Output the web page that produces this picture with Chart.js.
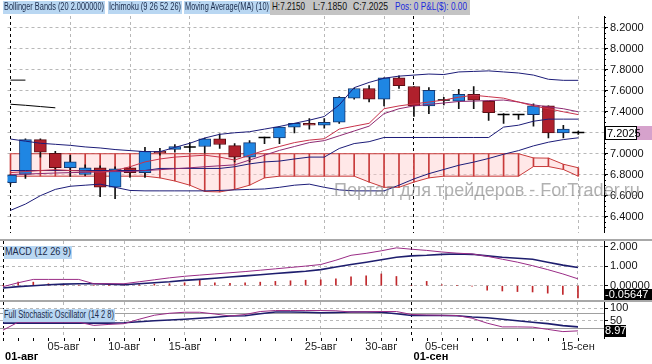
<!DOCTYPE html>
<html><head><meta charset="utf-8">
<script src="https://cdn.jsdelivr.net/npm/chart.js@4.4.1/dist/chart.umd.min.js"></script>
<style>
html,body{margin:0;padding:0;background:#fff}
#wrap{position:relative;width:652px;height:364px;overflow:hidden;background:#fff}
canvas{position:absolute;left:0}
.tag{position:absolute;height:13px;line-height:13px;font:10px "Liberation Sans",Arial,sans-serif;color:#1a2a4a;background:#b9d7f2;white-space:nowrap;overflow:hidden}
.fit{display:inline-block;transform-origin:0 50%;white-space:nowrap;position:absolute;top:0}
.sep{position:absolute;left:0;width:652px;height:2px;background:#a8a8a8}
#info{position:absolute;left:270px;top:0;width:200px;height:15px;line-height:15px;background:#c4c4c4;font:11px "Liberation Sans",Arial,sans-serif;color:#111;white-space:nowrap;overflow:hidden}
#info .pos{color:#1a2adc}
#wm{position:absolute;left:334px;top:180px;font:18px "Liberation Sans",Arial,sans-serif;color:rgba(135,135,135,0.65);white-space:nowrap}
</style></head><body><div id="wrap">
<canvas id="cMain" width="652" height="240" style="top:0"></canvas>
<canvas id="cMacd" width="652" height="59" style="top:241px"></canvas>
<canvas id="cSto" width="652" height="62" style="top:302px"></canvas>
<div class="sep" style="top:239px"></div>
<div class="sep" style="top:300px"></div>
<div id="info">
  <span class="fit" data-l="2" data-w="33">H:7.2150</span>
  <span class="fit" data-l="43" data-w="34">L:7.1850</span>
  <span class="fit" data-l="83" data-w="35">C:7.2025</span>
  <span class="fit pos" data-l="125" data-w="72">Pos: 0 P&amp;L($): 0.00</span>
</div>
<div class="tag" style="left:3px;top:1px;width:102px"><span class="fit" data-l="1" data-w="100">Bollinger Bands (20 2.000000)</span></div>
<div class="tag" style="left:108px;top:1px;width:74px"><span class="fit" data-l="1" data-w="72">Ichimoku (9 26 52 26)</span></div>
<div class="tag" style="left:184px;top:1px;width:86px"><span class="fit" data-l="1" data-w="84">Moving Average(MA) (10)</span></div>
<div class="tag" style="left:4px;top:246px;width:68px"><span class="fit" data-l="1" data-w="66">MACD (12 26 9)</span></div>
<div class="tag" style="left:3px;top:309px;width:112px"><span class="fit" data-l="1" data-w="110">Full Stochastic Oscillator (14 2 8)</span></div>
<div id="wm">Портал для трейдеров - ForTrader.ru</div>
</div>
<script>
// ---------- data ----------
const categories = ['01-авг','02-авг','03-авг','04-авг','05-авг','06-авг','07-авг','08-авг','10-авг','11-авг','12-авг','13-авг','15-авг','16-авг','17-авг','18-авг','19-авг','20-авг','22-авг','23-авг','24-авг','25-авг','26-авг','27-авг','29-авг','30-авг','31-авг','01-сен','02-сен','05-сен','06-сен','07-сен','08-сен','09-сен','10-сен','11-сен','12-сен','13-сен','15-сен'];
const dayTickIdx = [4, 8, 12, 21, 25, 29, 38];
const monthTickIdx = [0, 27];
const open  = [6.725,6.802,7.134,7.005,6.866,6.802,6.866,6.682,6.866,6.820,7.023,7.042,7.064,7.069,7.143,7.078,6.968,7.155,7.152,7.254,7.290,7.272,7.300,7.530,7.622,7.521,7.724,7.641,7.456,7.512,7.502,7.567,7.502,7.373,7.373,7.373,7.456,7.198,7.2025];
const high  = [6.802,7.143,7.143,7.023,6.986,6.894,6.885,6.876,6.876,7.060,7.051,7.088,7.106,7.150,7.189,7.097,7.125,7.160,7.260,7.290,7.336,7.336,7.545,7.625,7.650,7.724,7.742,7.641,7.631,7.539,7.613,7.641,7.502,7.383,7.375,7.475,7.456,7.272,7.2150];
const low   = [6.710,6.765,6.968,6.839,6.783,6.793,6.590,6.572,6.774,6.774,6.986,7.014,7.014,7.005,7.051,6.922,6.922,7.097,7.097,7.198,7.235,7.245,7.290,7.520,7.493,7.456,7.622,7.355,7.383,7.466,7.429,7.429,7.318,7.290,7.327,7.263,7.152,7.152,7.1850];
const close = [6.796,7.134,7.014,6.866,6.922,6.866,6.682,6.857,6.820,7.023,7.009,7.069,7.064,7.143,7.088,6.968,7.106,7.155,7.254,7.290,7.272,7.300,7.539,7.622,7.521,7.724,7.650,7.456,7.604,7.512,7.567,7.512,7.392,7.373,7.373,7.456,7.198,7.235,7.2025];
const bbUpper = [7.14,7.12,7.10,7.09,7.08,7.065,7.055,7.04,7.03,7.02,7.02,7.06,7.10,7.15,7.185,7.20,7.21,7.235,7.26,7.29,7.32,7.355,7.465,7.63,7.68,7.72,7.74,7.75,7.76,7.755,7.78,7.785,7.79,7.78,7.77,7.75,7.71,7.70,7.70];
const bbLower = [6.46,6.52,6.60,6.66,6.69,6.70,6.71,6.68,6.65,6.646,6.646,6.646,6.646,6.646,6.65,6.655,6.66,6.664,6.68,6.70,6.71,6.68,6.655,6.646,6.646,6.646,6.70,6.76,6.81,6.85,6.89,6.92,6.955,6.995,7.03,7.075,7.11,7.135,7.152];
const kijun = [6.84,6.84,6.84,6.84,6.84,6.84,6.84,6.84,6.84,6.84,6.86,6.86,6.86,6.86,6.86,6.876,6.903,6.922,6.93,6.95,6.968,6.968,7.05,7.097,7.115,7.155,7.155,7.155,7.155,7.155,7.155,7.155,7.155,7.254,7.272,7.31,7.33,7.33,7.33];
const tenkan = [6.820,6.83,6.84,6.848,6.84,6.834,6.825,6.84,6.876,6.922,6.95,6.968,6.977,6.986,6.968,6.94,6.986,7.032,7.069,7.106,7.13,7.143,7.235,7.263,7.29,7.429,7.456,7.475,7.493,7.512,7.539,7.558,7.544,7.53,7.493,7.456,7.429,7.40,7.373];
const ma10 = [6.802,6.806,6.811,6.816,6.82,6.823,6.827,6.83,6.83,6.84,6.848,6.857,6.866,6.876,6.885,6.894,6.94,6.986,7.032,7.069,7.106,7.125,7.171,7.217,7.263,7.3825,7.429,7.456,7.47,7.484,7.498,7.502,7.507,7.512,7.493,7.466,7.447,7.429,7.40];
const spanA = [6.786,6.786,6.786,6.786,6.786,6.786,6.786,6.786,6.786,6.786,6.77,6.74,6.70,6.64,6.636,6.66,6.70,6.77,6.786,6.786,6.786,6.786,6.786,6.786,6.73,6.68,6.68,6.73,6.77,6.786,6.786,6.786,6.786,6.786,6.786,6.878,6.878,6.85,6.786];
const spanB = [7.0,7.0,7.0,7.0,7.0,7.0,7.0,7.0,7.0,7.0,7.0,7.0,7.0,7.0,7.0,7.0,7.0,7.0,7.0,7.0,7.0,7.0,7.0,7.0,7.0,7.0,7.0,7.0,7.0,7.0,7.0,7.0,7.0,7.0,7.0,6.96,6.958,6.90,6.866];
const lagLine1 = [7.702, 7.702];
const lagLine2 = [7.472, 7.462, 7.450, 7.438];
const priceTicks = [6.4,6.6,6.8,7.0,7.2,7.4,7.6,7.8,8.0,8.2];
const macdLine = [-0.05,0.15,0.32,0.32,0.32,0.32,0.1,0.1,0.1,0.2,0.3,0.4,0.48,0.54,0.6,0.66,0.72,0.79,0.86,0.93,1.0,1.08,1.3,1.55,1.65,1.78,1.93,1.86,1.8,1.72,1.66,1.62,1.5,1.35,1.2,1.02,0.82,0.6,0.35];
const macdSignal = [-0.12,-0.05,0.0,0.05,0.08,0.1,0.1,0.08,0.05,0.1,0.15,0.2,0.27,0.32,0.38,0.44,0.5,0.56,0.62,0.68,0.74,0.82,0.95,1.08,1.2,1.32,1.45,1.52,1.55,1.6,1.62,1.6,1.52,1.45,1.4,1.35,1.2,1.05,0.93];
const macdHist = [0,0.18,0.18,0.1,0.05,0.03,0,0,0.03,0.05,0.08,0.1,0.15,0.27,0.15,0.12,0.15,0.18,0.22,0.25,0.28,0.3,0.35,0.45,0.5,0.6,0.47,0,0.22,0.05,0,-0.03,-0.23,-0.27,-0.3,-0.32,-0.38,-0.45,-0.62];
const macdTicks = [0, 1, 2];
const macdLast = -0.05647;
const stochK = [12,44,44,44,44,44,31,35,38,56,72,80,84,84,77,69,75,87,91,91,91,91,90,85,86,87,87,75,73,72,71,60,40,25,25,24,15,6,8.97];
const stochD = [40,40,40,40,40,40,40,40,42,46,50,53,56,60,64,69,70,78,85,85,84,82,83,85,85,84,78,71,71,71,70,65,62,56,50,44,38,30,25];
const stochTicks = [50, 100];
const stochLevels = [80, 20];

// ---------- text fitting ----------
document.querySelectorAll('.fit').forEach(el => {
  const w = el.getBoundingClientRect().width;
  el.style.left = el.dataset.l + 'px';
  el.style.transform = 'scaleX(' + (+el.dataset.w / w) + ')';
});

// ---------- helpers ----------
const idx = categories.map((_, i) => i);
const pts = arr => arr.map((v, i) => ({x: i, y: v}));
const FONT = 'Liberation Sans, Arial, sans-serif';
Chart.defaults.font.family = FONT;
const gridIdx = [...monthTickIdx, ...dayTickIdx].sort((a, b) => a - b);
function xAxis(h) {
  return {
    type: 'linear', min: -0.2, max: 39.72, offset: false,
    afterFit: s => { s.height = h; s.paddingLeft = 0; s.paddingRight = 0; },
    afterBuildTicks: s => { s.ticks = gridIdx.map(v => ({value: v})); },
    ticks: {display: false},
    grid: {offset: false, color: c => (c.tick && monthTickIdx.includes(c.tick.value)) ? '#000' : '#b8b8b8', lineWidth: 1, drawTicks: false},
    border: {display: false, dash: [3, 3]}
  };
}
function yAxis(min, max, ticks, fmt) {
  return {
    position: 'right', min, max,
    afterFit: s => { s.width = 48; s.paddingTop = 0; s.paddingBottom = 0; },
    afterBuildTicks: s => { s.ticks = ticks.map(v => ({value: v})); },
    ticks: {callback: fmt, color: '#111', font: {size: 11, family: FONT}, padding: 2},
    grid: {color: '#b8b8b8', tickColor: '#000', tickLength: 4, drawTicks: true},
    border: {display: true, color: '#000', width: 1, dash: [3, 3]}
  };
}
const baseOpts = {responsive: false, animation: false, events: [],
  plugins: {legend: {display: false}, tooltip: {enabled: false}}};

const isDoji = i => Math.abs(open[i] - close[i]) < 0.0005;
const up = i => close[i] > open[i];

// ---------- main chart ----------
const boxPlugin = {
  id: 'boxes',
  afterDraw(chart) {
    const ctx = chart.ctx, y = chart.scales.y, ca = chart.chartArea;
    const v = close[close.length - 1];
    const py = Math.round(y.getPixelForValue(v));
    ctx.save();
    ctx.fillStyle = '#fff'; ctx.fillRect(ca.right + 1, py - 7, 32, 14);
    ctx.strokeStyle = '#000'; ctx.lineWidth = 1; ctx.strokeRect(ca.right + 1.5, py - 6.5, 31, 13);
    ctx.fillStyle = '#d6a2cc'; ctx.fillRect(ca.right + 33, py - 7, 20, 14);
    ctx.fillStyle = '#000'; ctx.font = '11px ' + FONT; ctx.textBaseline = 'middle';
    ctx.fillText(v.toFixed(4), ca.right + 3, py + 0.5);
    ctx.beginPath();
    for (let t = 6.3; t <= 8.3; t += 0.05) {
      const p = Math.round(y.getPixelForValue(t)) + 0.5;
      if (p < ca.top || p > ca.bottom) continue;
      ctx.moveTo(ca.right, p); ctx.lineTo(ca.right + 2, p);
    }
    ctx.stroke();
    ctx.restore();
  }
};
new Chart(document.getElementById('cMain'), {
  type: 'bar',
  data: {datasets: [
    {type: 'line', label: 'lag1', data: pts(lagLine1), borderColor: '#000', borderWidth: 1, pointRadius: 0, order: 3},
    {type: 'line', label: 'lag2', data: pts(lagLine2), borderColor: '#000', borderWidth: 1, pointRadius: 0, order: 3},
    {type: 'line', label: 'BB upper', data: pts(bbUpper), borderColor: '#1c1c78', borderWidth: 1, pointRadius: 0, order: 2},
    {type: 'line', label: 'BB lower', data: pts(bbLower), borderColor: '#1c1c78', borderWidth: 1, pointRadius: 0, order: 2},
    {type: 'line', label: 'Kijun', data: pts(kijun), borderColor: '#1c1c78', borderWidth: 1, pointRadius: 0, order: 2},
    {type: 'line', label: 'Tenkan', data: pts(tenkan), borderColor: '#c8324a', borderWidth: 1, pointRadius: 0, order: 1},
    {type: 'line', label: 'MA10', data: pts(ma10), borderColor: '#8e2a72', borderWidth: 1, pointRadius: 0, order: 1},
    {type: 'line', label: 'doji', data: idx.filter(isDoji).map(i => ({x: i, y: close[i]})), showLine: false,
      pointStyle: 'line', pointRadius: 6, borderColor: '#000', borderWidth: 1.5, order: 4},
    {type: 'bar', label: 'bodies', data: idx.map(i => ({x: i, y: isDoji(i) ? null : [open[i], close[i]]})),
      backgroundColor: idx.map(i => up(i) ? '#1f86e3' : '#b0202c'),
      borderColor: idx.map(i => up(i) ? '#17376e' : '#5a0e14'),
      borderWidth: 1, borderSkipped: false, barThickness: 12, grouped: false, order: 5},
    {type: 'bar', label: 'wicks', data: idx.map(i => ({x: i, y: [low[i], high[i]]})),
      backgroundColor: '#111', barThickness: 1, grouped: false, order: 6},
    {type: 'bar', label: 'cloud hatch', data: idx.map(i => ({x: i, y: [spanA[i], spanB[i]]})),
      backgroundColor: '#c83a3a', barThickness: 1, grouped: false, order: 7},
    {type: 'line', label: 'Span B', data: pts(spanB), borderColor: '#c83a3a', borderWidth: 1, pointRadius: 0, order: 8},
    {type: 'line', label: 'Span A', data: pts(spanA), borderColor: '#c83a3a', borderWidth: 1, pointRadius: 0,
      fill: '-1', backgroundColor: 'rgba(255,205,205,0.45)', order: 9}
  ]},
  options: Object.assign({}, baseOpts, {
    layout: {padding: {top: 16, left: 0, right: 0, bottom: 0}},
    scales: {x: xAxis(0), y: yAxis(6.249, 8.3134, priceTicks, v => v.toFixed(4))}
  }),
  plugins: [boxPlugin]
});

// ---------- MACD ----------
const macdBox = {
  id: 'macdBox',
  afterDraw(chart) {
    const ctx = chart.ctx, ca = chart.chartArea;
    ctx.save();
    ctx.fillStyle = '#000'; ctx.fillRect(ca.right, ca.bottom - 11, 48, 12);
    ctx.fillStyle = '#fff'; ctx.font = '11px ' + FONT; ctx.textBaseline = 'middle';
    ctx.fillText(macdLast.toFixed(5), ca.right + 1, ca.bottom - 5);
    ctx.restore();
  }
};
new Chart(document.getElementById('cMacd'), {
  type: 'bar',
  data: {datasets: [
    {type: 'line', label: 'MACD', data: pts(macdLine), borderColor: '#9a2c86', borderWidth: 1, pointRadius: 0, order: 1},
    {type: 'line', label: 'Signal', data: pts(macdSignal), borderColor: '#1e1e6e', borderWidth: 1.6, pointRadius: 0, order: 2},
    {type: 'bar', label: 'Hist', data: pts(macdHist), backgroundColor: '#c0282c', barThickness: 1, grouped: false, order: 3}
  ]},
  options: Object.assign({}, baseOpts, {
    layout: {padding: 0},
    scales: {x: xAxis(0), y: yAxis(-0.73, 2.28, macdTicks, v => v === 0 ? '0.00000' : v.toFixed(3))}
  }),
  plugins: [macdBox]
});

// ---------- Stochastic ----------
const stoPlugin = {
  id: 'sto',
  beforeDatasetsDraw(chart) {
    const ctx = chart.ctx, ca = chart.chartArea, y = chart.scales.y;
    ctx.save(); ctx.strokeStyle = '#a0a0a0'; ctx.lineWidth = 1;
    stochLevels.forEach(l => {
      const p = Math.round(y.getPixelForValue(l)) + 0.5;
      ctx.beginPath(); ctx.moveTo(ca.left, p); ctx.lineTo(ca.right, p); ctx.stroke();
    });
    ctx.restore();
  },
  afterDraw(chart) {
    const ctx = chart.ctx, ca = chart.chartArea, x = chart.scales.x, y = chart.scales.y;
    ctx.save();
    const v = stochK[stochK.length - 1];
    const py = Math.min(Math.round(y.getPixelForValue(v)), ca.bottom - 6);
    ctx.fillStyle = '#000'; ctx.fillRect(ca.right, py - 6, 22, 12);
    ctx.fillStyle = '#fff'; ctx.font = '11px ' + FONT; ctx.textBaseline = 'middle';
    ctx.fillText(v.toFixed(2), ca.right + 1, py);
    ctx.strokeStyle = '#000'; ctx.beginPath();
    idx.forEach(i => {
      const px = Math.round(x.getPixelForValue(i)) + 0.5;
      ctx.moveTo(px, ca.bottom); ctx.lineTo(px, ca.bottom + 3);
    });
    ctx.stroke();
    ctx.fillStyle = '#222'; ctx.textBaseline = 'middle';
    ctx.font = '11px ' + FONT; ctx.textAlign = 'center';
    dayTickIdx.forEach(i => ctx.fillText(categories[i], x.getPixelForValue(i), ca.bottom + 9));
    ctx.font = 'bold 11px ' + FONT; ctx.textAlign = 'left'; ctx.fillStyle = '#000';
    monthTickIdx.forEach(i => ctx.fillText(categories[i], x.getPixelForValue(i) + 2, ca.bottom + 19));
    ctx.restore();
  }
};
new Chart(document.getElementById('cSto'), {
  type: 'line',
  data: {datasets: [
    {label: '%K', data: pts(stochK), borderColor: '#9a2c86', borderWidth: 1, pointRadius: 0, order: 1},
    {label: '%D', data: pts(stochD), borderColor: '#1e1e6e', borderWidth: 1.6, pointRadius: 0, order: 2}
  ]},
  options: Object.assign({}, baseOpts, {
    layout: {padding: 0},
    scales: {x: xAxis(26), y: yAxis(-19.8, 125.4, stochTicks, v => String(v))}
  }),
  plugins: [stoPlugin]
});
</script>
</body></html>
